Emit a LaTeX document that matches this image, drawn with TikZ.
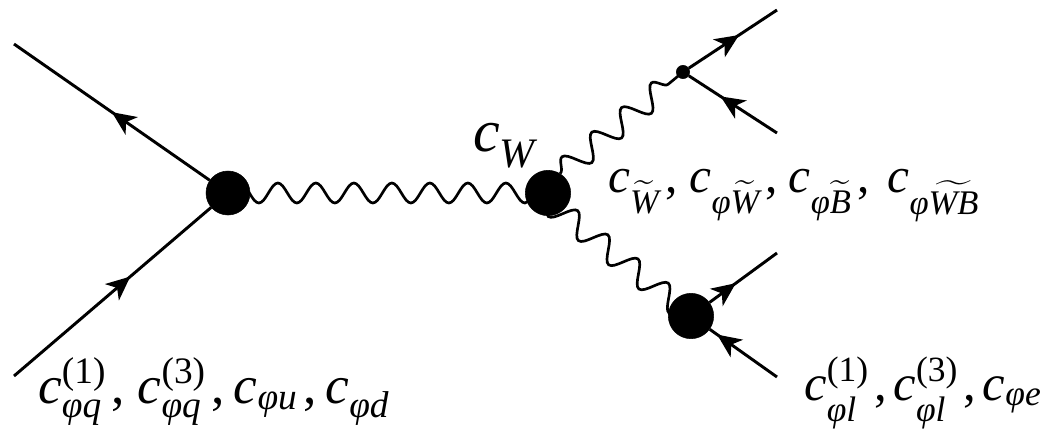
\documentclass[tikz,border=0pt]{standalone}
\usepackage{amsmath,amssymb}
\usepackage{fontspec}
\setmainfont{Liberation Serif}
\usepackage{tikz}
\usetikzlibrary{arrows.meta,calc,decorations.pathmorphing,decorations.markings}

\newcommand{\ci}[1]{\textit{#1}}
\newcommand{\sep}[1]{\mkern3mu\text{,}\mkern#1mu}

\tikzset{
  fermion/.style={line width=2.2pt, postaction={decorate}, decoration={markings,
      mark=at position #1 with {\arrow{Stealth[length=18pt,width=16pt,inset=5pt]}}}},
  fermion/.default=0.55,
  boson/.style={line width=2pt, decorate,
      decoration={snake, segment length=29pt, amplitude=#1}},
  blob/.style={circle, fill=black, draw=black, inner sep=0pt, minimum size=#1},
  lbl/.style={inner sep=0pt, anchor=base west, font=\fontsize{40}{44}\selectfont},
}

\begin{document}
\begin{tikzpicture}[x=0.75pt, y=-0.75pt]

  \useasboundingbox (0,0) rectangle (1050,430);

  %--- Vertices ------------------------------------------------------------
  \node[blob=33pt] (left) at (228,193) {};
  \node[blob=34pt] (mid) at (548,193) {};
  \node[blob=10pt] (up) at (683,72) {};
  \node[blob=34pt] (low) at (691,316) {};

  %--- Free ends -----------------------------------------------------------
  \coordinate (q1) at (14,44);
  \coordinate (q2) at (14,376);
  \coordinate (f1) at (777,10);
  \coordinate (f2) at (777,133);
  \coordinate (f3) at (777,253);
  \coordinate (f4) at (777,377);

  %--- Fermions ------------------------------------------------------------
  \draw[fermion=0.50] (left) -- (q1);
  \draw[fermion=0.59] (q2) -- (left);
  \draw[fermion=0.57] (up) -- (f1);
  \draw[fermion=0.64] (f2) -- (up);
  \draw[fermion=0.39] (low) -- (f3);
  \draw[fermion=0.89] (f4) -- (low);

  %--- Bosons --------------------------------------------------------------
  \draw[boson=7.5pt, decoration={segment length=28.5pt}] (left.center) -- (mid.center);
  \draw[boson=8.8pt] (mid.58) -- (up.center);
  \draw[boson=8.6pt, decoration={mirror}] ($(mid)+(-2,7)$) -- (low.center);

  %--- Labels --------------------------------------------------------------
  \node[lbl, font=\fontsize{45}{48}\selectfont] (cw) at (473,151) {$\ci{c}_{\ci{W}}$};
  \node[lbl] (lq) at (38,403) {$\ci{c}_{\ci{φq}}^{\text{(1)}}\sep{7}\ci{c}_{\ci{φq}}^{\text{(3)}}\sep{5}\ci{c}_{\ci{φu}}\sep{5}\ci{c}_{\ci{φd}}$};
  \node[lbl, font=\fontsize{37}{40}\selectfont] (lw) at (608,192) {$\ci{c}_{\widetilde{\ci{W}}}\sep{6.6}\ci{c}_{\ci{φ}\widetilde{\ci{W}}}\sep{6}\ci{c}_{\ci{φ}\widetilde{\ci{B}}}\sep{9.8}\ci{c}_{\ci{φ}\widetilde{\ci{WB}}}$};
  \node[lbl, font=\fontsize{38}{41}\selectfont] (ll) at (804,400) {$\ci{c}_{\ci{φl}}^{\text{(1)}}\sep{3.6}\ci{c}_{\ci{φl}}^{\text{(3)}}\sep{3.6}\ci{c}_{\ci{φe}}$};

\end{tikzpicture}
\end{document}
